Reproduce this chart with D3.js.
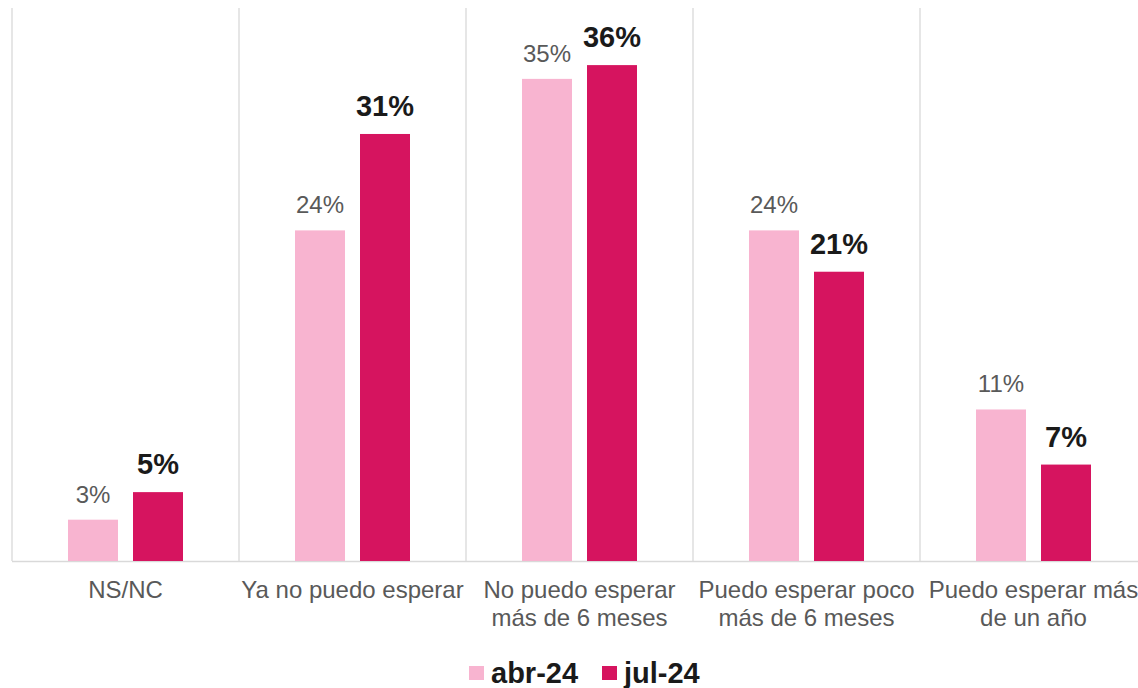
<!DOCTYPE html>
<html><head><meta charset="utf-8">
<script src="https://cdn.jsdelivr.net/npm/d3@7"></script>
<style>body{margin:0;background:#fff;overflow:hidden}svg{display:block}</style>
</head><body>
<script>
const categories = [["NS/NC"],["Ya no puedo esperar"],["No puedo esperar","más de 6 meses"],["Puedo esperar poco","más de 6 meses"],["Puedo esperar más","de un año"]];
const seriesNames = ["abr-24","jul-24"];
const abr24 = [3,24,35,24,11];
const jul24 = [5,31,36,21,7];
const colors = ["#f8b4d0","#d6145f"];

const W=1138,H=688;
const svg=d3.select("body").append("svg").attr("width",W).attr("height",H);
const x0=d3.scaleBand().domain(d3.range(categories.length)).range([12,1147]).paddingInner(0).paddingOuter(0);
const x1=d3.scaleBand().domain([0,1]).range([x0.bandwidth()/2-57.5,x0.bandwidth()/2+57.5]).paddingInner(15/65).paddingOuter(0);
const y=d3.scaleLinear().domain([0,40]).range([561,10]);
const font="'Liberation Sans', Arial, sans-serif";

svg.append("g").selectAll("line").data(d3.range(categories.length+1)).join("line")
  .attr("x1",i=>12+i*x0.bandwidth()).attr("x2",i=>12+i*x0.bandwidth())
  .attr("y1",8).attr("y2",561).attr("stroke","#d9d9d9").attr("stroke-width",1.3);
svg.append("line").attr("x1",12).attr("x2",1147).attr("y1",561.5).attr("y2",561.5).attr("stroke","#d9d9d9").attr("stroke-width",1.5);

const data=[abr24,jul24];
categories.forEach((c,i)=>{
  const g=svg.append("g").attr("transform",`translate(${x0(i)},0)`);
  data.forEach((s,k)=>{
    g.append("rect").attr("x",x1(k)).attr("width",x1.bandwidth()).attr("y",y(s[i])).attr("height",y(0)-y(s[i])).attr("fill",colors[k]);
    g.append("text").attr("x",x1(k)+x1.bandwidth()/2).attr("y",y(s[i])-(k?18:17)).attr("text-anchor","middle")
      .attr("font-family",font).attr("font-size",k?29:24).attr("font-weight",k?"bold":"normal")
      .attr("fill",k?"#1a1a1a":"#595959").text(s[i]+"%");
  });
  const t=g.append("text").attr("text-anchor","middle").attr("font-family",font).attr("font-size",24).attr("fill","#595959");
  c.forEach((line,j)=>t.append("tspan").attr("x",x0.bandwidth()/2).attr("y",598+j*28).text(line));
});

const leg=svg.append("g");
const lx=[469,602];
seriesNames.forEach((n,k)=>{
  leg.append("rect").attr("x",lx[k]).attr("y",666).attr("width",15).attr("height",14).attr("fill",colors[k]);
  leg.append("text").attr("x",lx[k]+22).attr("y",683).attr("font-family",font).attr("font-size",29).attr("font-weight","bold").attr("fill","#1a1a1a").text(n);
});
</script>
</body></html>
